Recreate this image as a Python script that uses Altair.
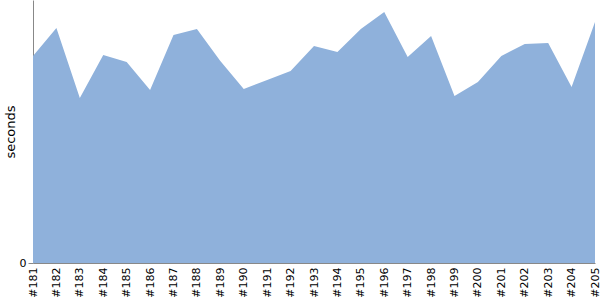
import altair as alt
import pandas as pd

builds = ["#181", "#182", "#183", "#184", "#185", "#186", "#187", "#188", "#189",
          "#190", "#191", "#192", "#193", "#194", "#195", "#196", "#197", "#198",
          "#199", "#200", "#201", "#202", "#203", "#204", "#205"]
seconds = [103.5, 117.5, 82.5, 104.0, 100.5, 86.5, 114.0, 117.0, 101.0,
           87.0, 91.5, 96.0, 108.5, 105.5, 117.0, 125.5, 103.0, 113.5,
           83.5, 90.5, 103.5, 109.5, 110.0, 88.0, 120.5]
y_max = 131.5

df = pd.DataFrame({"build": builds, "seconds": seconds})

chart = alt.Chart(df).mark_area(color="#8fb1db", opacity=1, interpolate="linear").encode(
    x=alt.X("build:N", sort=builds, scale=alt.Scale(type="point", padding=0),
            axis=alt.Axis(title=None, labelAngle=-90, labelFont="DejaVu Sans", labelFontSize=11,
                          labelColor="#000", ticks=False, domainColor="#888", labelPadding=4,
                          grid=False)),
    y=alt.Y("seconds:Q", scale=alt.Scale(domain=[0, y_max], nice=False, zero=True),
            axis=alt.Axis(title="seconds", values=[0], titleFont="DejaVu Sans", titleFontSize=13,
                          titleFontWeight="normal", titleColor="#000", labelFont="DejaVu Sans",
                          labelFontSize=11, labelColor="#000", domainColor="#888", tickColor="#888",
                          tickSize=5, grid=False, titlePadding=2, labelPadding=2)),
).properties(
    width=562, height=263,
    autosize=alt.AutoSizeParams(type="none"),
    padding={"left": 33, "top": 0, "right": 5, "bottom": 37},
).configure_view(stroke=None)

chart.save("out.html", embed_options={"renderer": "svg", "actions": False})
